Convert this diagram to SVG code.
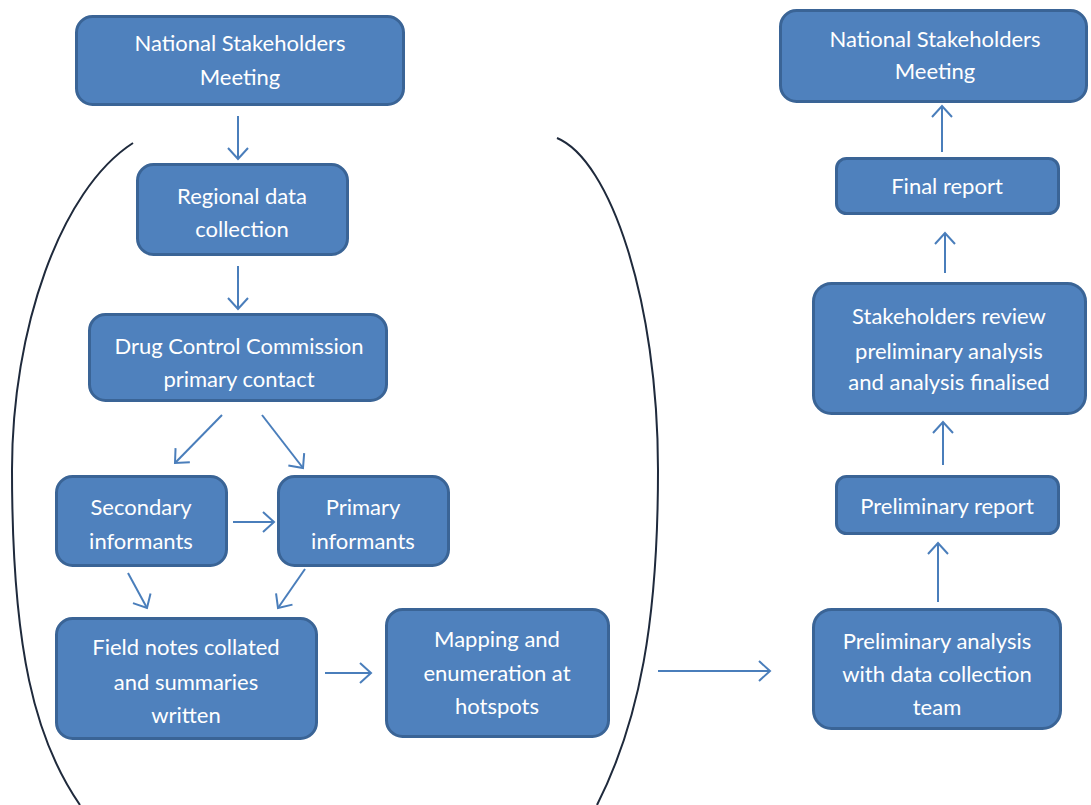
<svg xmlns="http://www.w3.org/2000/svg" width="1091" height="805" viewBox="0 0 1091 805">
<style>
.box{fill:#4f81bd;stroke:#3a6496;stroke-width:3}
.t{font-family:Lato,"Open Sans","Liberation Sans",sans-serif;font-size:22px;fill:#ffffff;text-anchor:middle}
.c{fill:none;stroke:#4a7ebb;stroke-width:2;marker-end:url(#ah)}
.arc{fill:none;stroke:#1f2a3c;stroke-width:2}
</style>
<defs>
<marker id="ah" markerUnits="userSpaceOnUse" markerWidth="16" markerHeight="24" refX="13" refY="12" orient="auto" viewBox="0 0 16 24">
<path d="M2,2 L13,12 L2,22" fill="none" stroke="#4a7ebb" stroke-width="2"/>
</marker>
</defs>
<rect width="1091" height="805" fill="#ffffff"/>
<g id="enclosure">
<path class="arc" d="M133,143 C60,190 12,330 12,470 C12,650 35,740 80,805"/>
<path class="arc" d="M557,138 C610,160 658,300 658,470 C658,620 640,720 597,805"/>
</g>
<g id="connectors">
<line class="c" x1="238" y1="116" x2="238" y2="159"/>
<line class="c" x1="238" y1="266" x2="238" y2="309"/>
<line class="c" x1="222" y1="415" x2="175" y2="463"/>
<line class="c" x1="262" y1="415" x2="303" y2="468"/>
<line class="c" x1="233" y1="522" x2="274" y2="522"/>
<line class="c" x1="128" y1="573" x2="147" y2="608"/>
<line class="c" x1="305" y1="569" x2="278" y2="608"/>
<line class="c" x1="325" y1="673" x2="371" y2="673"/>
<line class="c" x1="658" y1="671" x2="770" y2="671"/>
<line class="c" x1="938" y1="602" x2="938" y2="543"/>
<line class="c" x1="943" y1="465" x2="943" y2="422"/>
<line class="c" x1="945" y1="273" x2="945" y2="233"/>
<line class="c" x1="942" y1="152" x2="942" y2="106"/>
</g>
<g id="n1"><rect class="box" x="76.5" y="16.5" width="327" height="88" rx="16"/>
<text class="t" x="240" y="51">National Stakeholders</text><text class="t" x="240" y="85">Meeting</text></g>
<g id="n2"><rect class="box" x="137.5" y="164.5" width="210" height="90" rx="16"/>
<text class="t" x="242" y="204">Regional data</text><text class="t" x="242" y="237">collection</text></g>
<g id="n3"><rect class="box" x="89.5" y="314.5" width="297" height="86" rx="16"/>
<text class="t" x="239" y="354">Drug Control Commission</text><text class="t" x="239" y="387">primary contact</text></g>
<g id="n4"><rect class="box" x="56.5" y="476.5" width="170" height="89" rx="16"/>
<text class="t" x="141" y="515">Secondary</text><text class="t" x="141" y="549">informants</text></g>
<g id="n5"><rect class="box" x="278.5" y="476.5" width="170" height="89" rx="16"/>
<text class="t" x="363" y="515">Primary</text><text class="t" x="363" y="549">informants</text></g>
<g id="n6"><rect class="box" x="56.5" y="618.5" width="260" height="120" rx="16"/>
<text class="t" x="186" y="655">Field notes collated</text><text class="t" x="186" y="690">and summaries</text><text class="t" x="186" y="723">written</text></g>
<g id="n7"><rect class="box" x="386.5" y="609.5" width="222" height="127" rx="16"/>
<text class="t" x="497" y="647">Mapping and</text><text class="t" x="497" y="681">enumeration at</text><text class="t" x="497" y="714">hotspots</text></g>
<g id="n8"><rect class="box" x="780.5" y="10.5" width="306" height="91" rx="16"/>
<text class="t" x="935" y="47">National Stakeholders</text><text class="t" x="935" y="79">Meeting</text></g>
<g id="n9"><rect class="box" x="836.5" y="158.5" width="222" height="55" rx="10"/>
<text class="t" x="947" y="194">Final report</text></g>
<g id="n10"><rect class="box" x="813.5" y="283.5" width="272" height="130" rx="18"/>
<text class="t" x="949" y="324">Stakeholders review</text><text class="t" x="949" y="359">preliminary analysis</text><text class="t" x="949" y="390">and analysis finalised</text></g>
<g id="n11"><rect class="box" x="836.5" y="476.5" width="222" height="57" rx="10"/>
<text class="t" x="947" y="514">Preliminary report</text></g>
<g id="n12"><rect class="box" x="813.5" y="609.5" width="247" height="119" rx="18"/>
<text class="t" x="937" y="649">Preliminary analysis</text><text class="t" x="937" y="682">with data collection</text><text class="t" x="937" y="715">team</text></g>
</svg>
